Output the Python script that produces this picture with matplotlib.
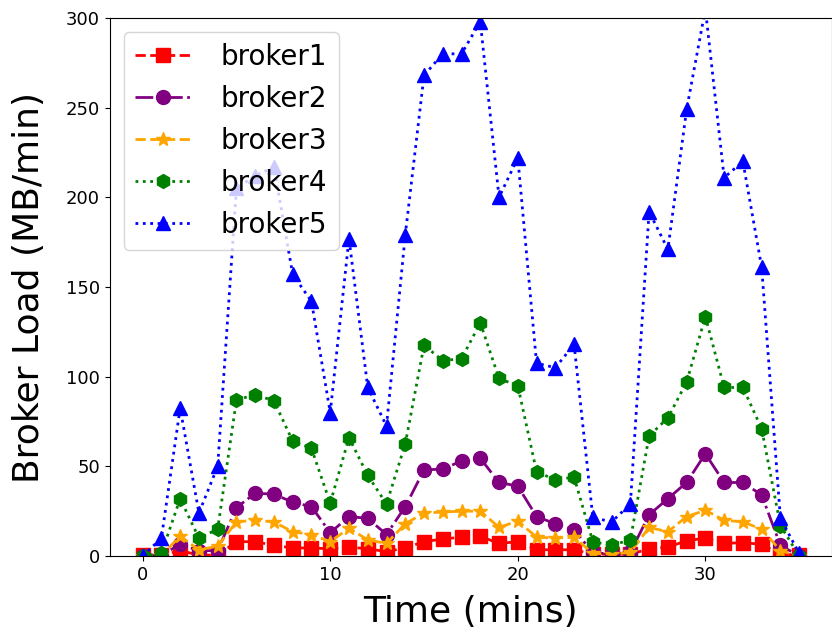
import matplotlib.pyplot as plt

time_mins = list(range(36))

broker1 = [0.5, 0.5, 3, 0.5, 0.5, 8, 8, 6, 4.5, 4.5, 4, 5, 4, 2.5, 4.5, 8, 9.5, 10.5,
           11, 7, 8, 3.5, 3.5, 3.5, 1, 1, 1, 4, 5, 8.5, 10, 7, 7.5, 6.5, 1, 0.5]
broker2 = [0, 0.5, 6.5, 3, 3, 27, 35, 34.5, 30, 27.5, 13, 22, 21, 12, 27.5, 48, 48.5, 53,
           54.5, 41, 39, 22, 18, 14.5, 2, 1, 2, 23, 32, 41, 57, 41, 41, 34, 6, 0]
broker3 = [0, 0.5, 11, 3.5, 5.5, 19, 20, 19, 13.5, 12, 8, 15.5, 9, 7, 18, 24, 24.5, 25,
           25, 16, 19.5, 10.5, 10, 10.5, 1.5, 1, 2, 16, 13.5, 22, 25.5, 20, 19, 15, 3, 0]
broker4 = [0, 1.5, 32, 10, 15, 87, 90, 86.5, 64, 60, 29.5, 66, 45, 29, 62.5, 117.5, 109, 110,
           130, 99, 95, 47, 42.5, 44, 8, 6, 9, 67, 77, 97, 133.5, 94, 94, 71, 17, 0]
broker5 = [0, 10, 82.5, 24, 50, 205, 212, 217, 157, 142, 80, 177, 94, 72.5, 179, 268, 280, 280,
           298, 200, 222, 107.5, 105, 118, 21.5, 19, 29, 192, 171, 249, 305, 211, 220, 161, 21, 1.5]

series = [
    ("broker1", broker1, "red", "--", "s"),
    ("broker2", broker2, "purple", "-.", "o"),
    ("broker3", broker3, "orange", "--", "*"),
    ("broker4", broker4, "green", ":", "h"),
    ("broker5", broker5, "blue", ":", "^"),
]

fig = plt.figure(figsize=(8.32, 6.33), dpi=100)
ax = fig.add_axes([0.132, 0.1216, 0.868, 0.85])

for name, values, color, ls, marker in series:
    ax.plot(time_mins, values, color=color, linestyle=ls, marker=marker,
            markersize=10, linewidth=2, label=name)

ax.set_xlim(-1.75, 36.75)
ax.set_ylim(0, 300)
ax.set_xticks([0, 10, 20, 30])
ax.set_yticks(range(0, 301, 50))
ax.tick_params(axis="both", labelsize=13)
ax.set_xlabel("Time (mins)", fontsize=26)
ax.set_ylabel("Broker Load (MB/min)", fontsize=26)
ax.xaxis.set_label_coords(0.5, -0.072)
ax.yaxis.set_label_coords(-0.088, 0.5)
ax.legend(loc="upper left", fontsize=20, handletextpad=1.1)

fig.savefig("out.png", dpi=100)
